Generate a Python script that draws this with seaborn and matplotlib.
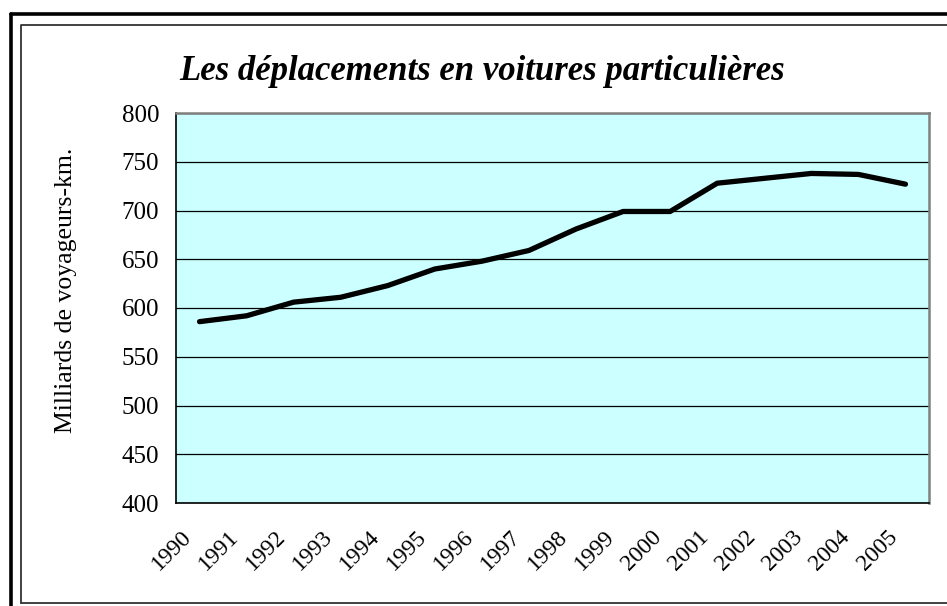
import numpy as np
import pandas as pd
import seaborn as sns
import matplotlib.pyplot as plt
from matplotlib.lines import Line2D
from matplotlib.ticker import FixedLocator, NullFormatter
from matplotlib.transforms import ScaledTranslation

# Passenger-km travelled by private car, France 1990-2005 (billions)
years = ['1990', '1991', '1992', '1993', '1994', '1995', '1996', '1997',
         '1998', '1999', '2000', '2001', '2002', '2003', '2004', '2005']
values = [586, 592, 606, 611, 623, 640, 648, 659,
          681, 699, 699, 728, 733, 738, 737, 727]
y_ticks = [400, 450, 500, 550, 600, 650, 700, 750, 800]

df = pd.DataFrame({'annee': years, 'valeur': values})

sns.set_style('white')
plt.rcParams['font.family'] = ['Liberation Serif', 'DejaVu Serif']
plt.rcParams['text.color'] = 'black'
plt.rcParams['axes.labelcolor'] = 'black'
plt.rcParams['xtick.color'] = 'black'
plt.rcParams['ytick.color'] = 'black'

fig = plt.figure(figsize=(9.47, 6.06), dpi=100)
ax = fig.add_axes([176 / 947, 103 / 606, 753 / 947, 390 / 606])
ax.set_facecolor('#CCFFFF')

sns.lineplot(data=df, x='annee', y='valeur', color='black', linewidth=3.8,
             sort=False, ax=ax, solid_joinstyle='round', solid_capstyle='round')

n = len(years)
ax.set_xlim(-0.5, n - 0.5)
ax.set_ylim(400, 800)
ax.set_yticks(y_ticks)
ax.set_yticklabels([str(t) for t in y_ticks], fontsize=18)
ax.yaxis.grid(True, color='black', linewidth=0.9)
ax.set_axisbelow(True)

# category boundaries get the tick marks, labels sit at the centres
ax.xaxis.set_major_locator(FixedLocator(np.arange(n + 1) - 0.5))
ax.xaxis.set_major_formatter(NullFormatter())
ax.xaxis.set_minor_locator(FixedLocator(np.arange(n)))
ax.set_xticklabels(years, minor=True, fontsize=17, rotation=45,
                   ha='right', va='top', rotation_mode='anchor')
ax.tick_params(axis='x', which='major', direction='out', length=6, width=1, color='black')
ax.tick_params(axis='x', which='minor', length=0, pad=17)
ax.tick_params(axis='y', direction='out', length=6, width=1, color='black', pad=6)
shift = ScaledTranslation(-0.19, 0, fig.dpi_scale_trans)
for lab in ax.get_xticklabels(minor=True):
    lab.set_transform(lab.get_transform() + shift)

ax.set_xlabel('')
ax.set_ylabel('Milliards de voyageurs-km.', fontsize=18.5)
ax.yaxis.set_label_coords(-0.131, 0.546)

for side in ['left', 'bottom']:
    ax.spines[side].set_color('black')
    ax.spines[side].set_linewidth(1.2)
for side in ['top', 'right']:
    ax.spines[side].set_color('#808080')
    ax.spines[side].set_linewidth(1.8)

fig.text(482 / 947, 1 - 72 / 606, 'Les déplacements en voitures particulières',
         ha='center', va='center', fontsize=25, fontweight='bold', fontstyle='italic')

# outer page frame (thick) and chart-area frame (thin)
W, H = 947, 606
fig.add_artist(Line2D([11 / W, 11 / W], [0, 1 - 14 / H], color='black', linewidth=2.6,
                      transform=fig.transFigure))
fig.add_artist(Line2D([11 / W, 1], [1 - 14 / H, 1 - 14 / H], color='black', linewidth=2.6,
                      transform=fig.transFigure))
fig.add_artist(Line2D([21 / W, 21 / W, 1], [1 - 603 / H, 1 - 25 / H, 1 - 25 / H],
                      color='#333333', linewidth=1.3, transform=fig.transFigure))
fig.add_artist(Line2D([21 / W, 1], [1 - 603 / H, 1 - 603 / H],
                      color='#333333', linewidth=1.3, transform=fig.transFigure))

fig.savefig('out.png', dpi=100)
